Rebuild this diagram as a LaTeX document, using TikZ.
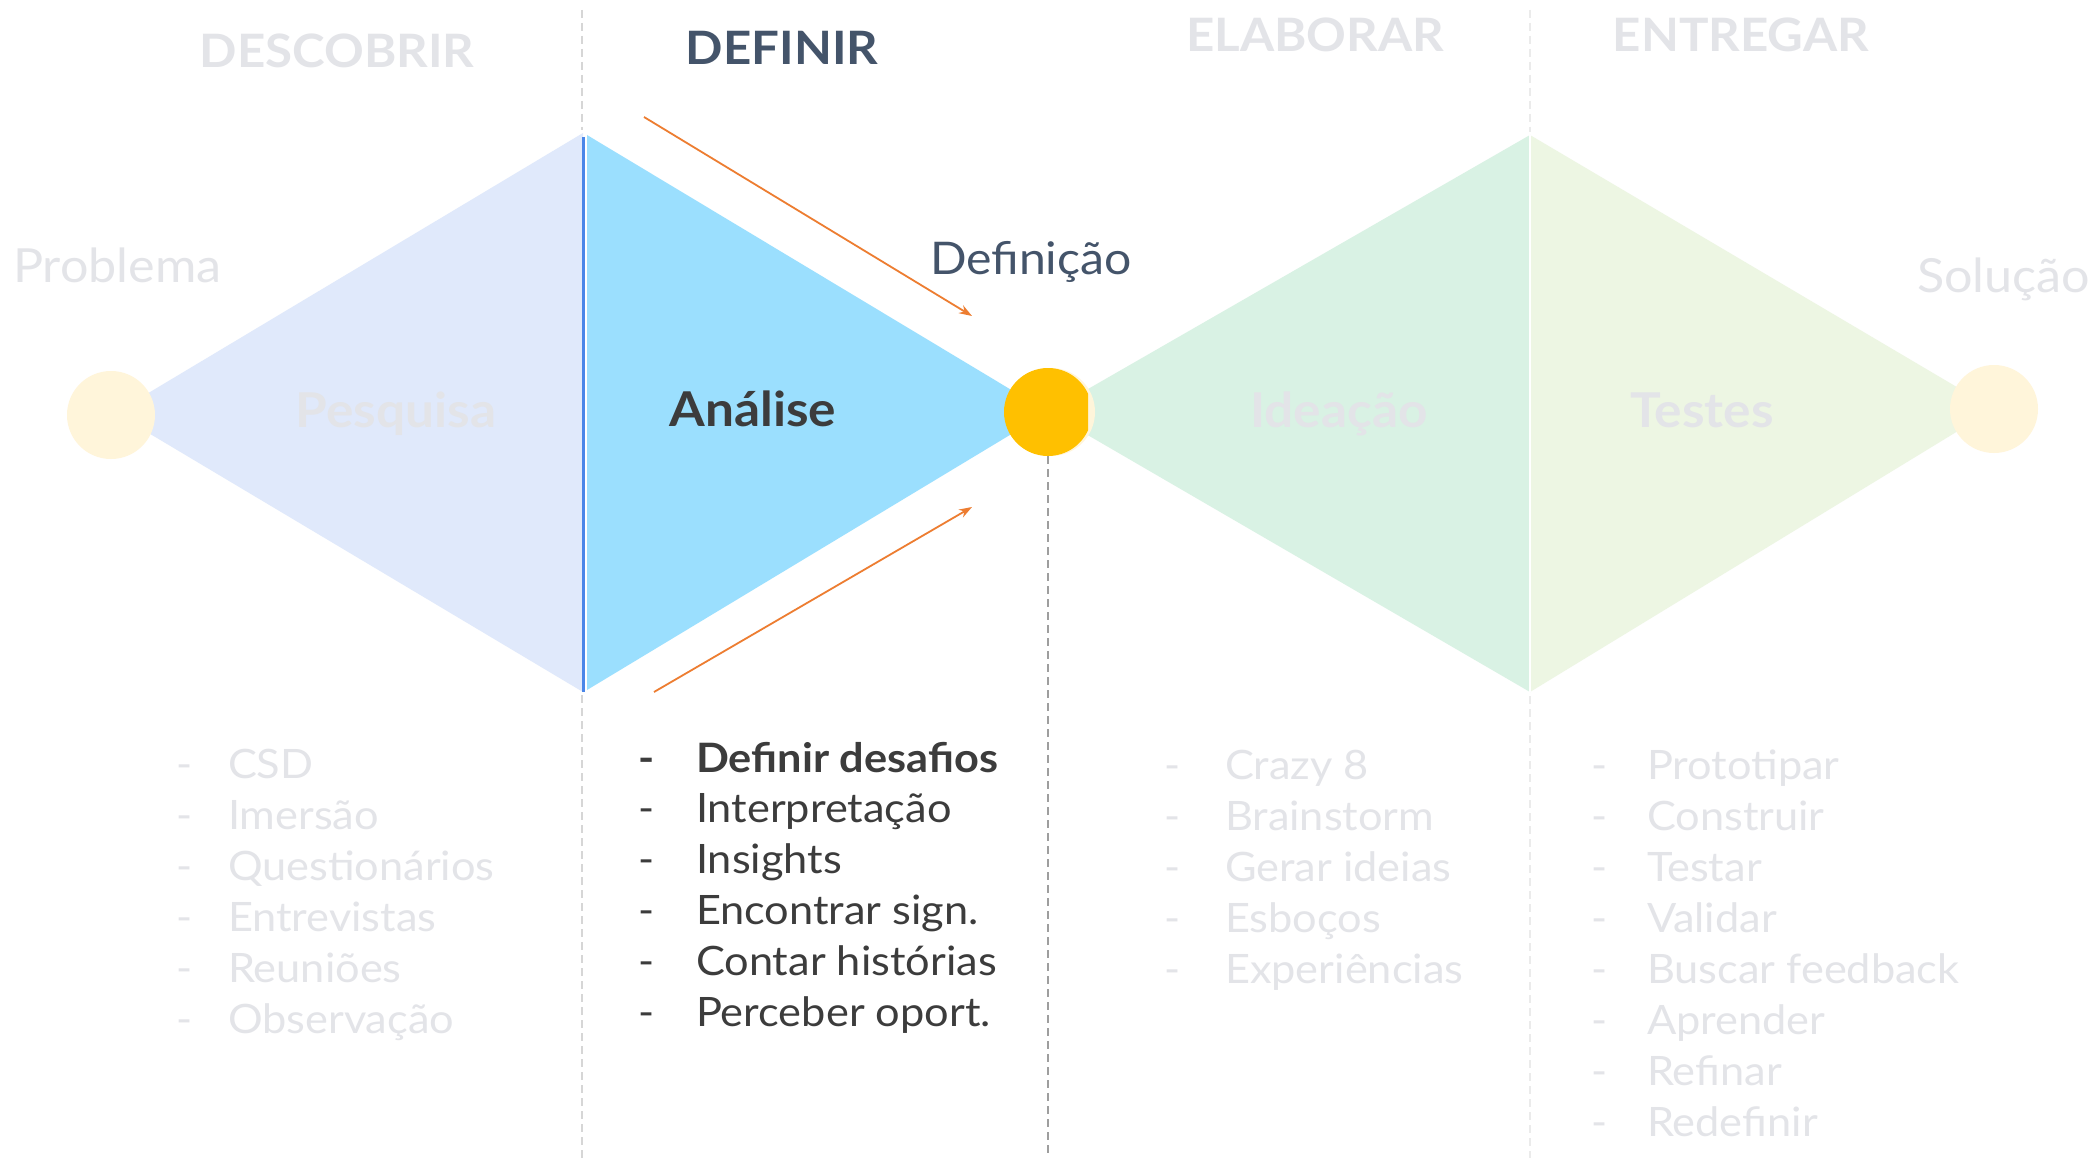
\documentclass[tikz,border=0pt]{standalone}
\usepackage{fontspec}
\setmainfont{Lato}[FakeStretch=1.07]
\usetikzlibrary{arrows.meta}
\definecolor{lav}{HTML}{E0E9FB}
\definecolor{cyanf}{HTML}{9BDFFE}
\definecolor{mint}{HTML}{D9F2E4}
\definecolor{lgreen}{HTML}{EDF6E3}
\definecolor{cream}{HTML}{FFF5DA}
\definecolor{gold}{HTML}{FFC000}
\definecolor{bline}{HTML}{4A86E8}
\definecolor{orng}{HTML}{ED7D31}
\definecolor{slate}{HTML}{44546A}
\definecolor{faint}{HTML}{E3E4E8}
\definecolor{dark}{HTML}{3C3C3C}
\begin{document}
\begin{tikzpicture}[x=1pt,y=-1pt,
  every node/.style={inner sep=0pt, outer sep=0pt},
  header/.style={anchor=base, font=\fontsize{46}{54}\selectfont\bfseries},
  label/.style={anchor=base west, font=\fontsize{47}{56}\selectfont},
  phase/.style={anchor=base, font=\fontsize{48}{56}\selectfont\bfseries},
  item/.style={anchor=base west, font=\fontsize{40.5}{48}\selectfont},
  dot/.style={circle, minimum size=88pt},
  arr/.style={draw=orng, line width=1.8pt, -{Stealth[length=13pt,width=9pt]}},
  dashlight/.style={draw=black!16, line width=1.5pt, dash pattern=on 8pt off 5pt},
  dashfaint/.style={draw=black!8, line width=1.5pt, dash pattern=on 8pt off 5pt},
  dashmid/.style={draw=black!38, line width=1.5pt, dash pattern=on 8pt off 5pt}]
\useasboundingbox[fill=white] (0,0) rectangle (2091,1158);

% key points
\coordinate (L) at (115,413);
\coordinate (T1) at (583,133);
\coordinate (B1) at (583,692);
\coordinate (M) at (1048,412);
\coordinate (T2) at (1530,135);
\coordinate (B2) at (1530,692);
\coordinate (R) at (1994,409);

% diamonds
\fill[lav] (L) -- (T1) -- (B1) -- cycle;
\fill[cyanf] (587,135) -- (M) -- (587,690) -- cycle;
\fill[mint] (M) -- (T2) -- (B2) -- cycle;
\fill[lgreen] (T2) -- (R) -- (B2) -- cycle;
\draw[white, line width=2pt] (T2) -- (B2);
\draw[bline, line width=3pt] (583,137) -- (B1);

% dashed guides
\coordinate (g1t) at (582,10);
\coordinate (g1b) at (582,1158);
\coordinate (g2t) at (1530,10);
\coordinate (g2b) at (1530,1158);
\coordinate (g3b) at (1048,1158);
\draw[dashlight] (g1t) -- (582,130);
\draw[dashlight] (582,695) -- (g1b);
\draw[dashfaint] (g2t) -- (1530,132);
\draw[dashfaint] (1530,696) -- (g2b);

% circles
\node[dot, fill=cream] (c1) at (111,415) {};
\node[dot, fill=cream] (c3) at (R) {};
\node[dot, fill=cream] (c2b) at (1051,412) {};
\begin{scope}
  \clip (0,0) rectangle (1088,1158);
  \node[dot, fill=gold] (c2) at (M) {};
\end{scope}
\draw[dashmid] (c2.south) -- (g3b);

% headers
\node[header, text=faint] (h1) at (337,68) {DESCOBRIR};
\node[header, text=slate] (h2) at (782,65) {DEFINIR};
\node[header, text=faint] (h3) at (1315,52) {ELABORAR};
\node[header, text=faint] (h4) at (1741,52) {ENTREGAR};

% side labels
\node[label, text=faint] (lp) at (13,283) {Problema};
\node[label, text=slate, font=\fontsize{45}{54}\selectfont] (ld) at (930,275) {Definição};
\node[label, text=faint] (ls) at (1917,293) {Solução};

% phase labels
\node[phase, text=faint] (p1) at (396,427) {Pesquisa};
\node[phase, text=dark] (p2) at (753,426) {Análise};
\node[phase, text=faint] (p3) at (1339,427) {Ideação};
\node[phase, text=faint] (p4) at (1702,427) {Testes};

% arrows
\coordinate (a1s) at (644,117);
\coordinate (a1e) at (972,316);
\coordinate (a2s) at (654,692);
\coordinate (a2e) at (972,507);
\draw[arr] (a1s) -- (a1e);
\draw[arr] (a2s) -- (a2e);

% lists
\foreach \t [count=\i] in {CSD,Imersão,Questionários,Entrevistas,Reuniões,Observação}{
  \node[item, text=faint] (d1\i) at (176,{778+51*(\i-1)}) {-};
  \node[item, text=faint] (t1\i) at (228,{778+51*(\i-1)}) {\t};
}
\node[item, text=dark, font=\fontsize{40.5}{48}\selectfont\bfseries] (d21) at (638,772) {-};
\node[item, text=dark, font=\fontsize{40.5}{48}\selectfont\bfseries] (t21) at (696,772) {Definir desafios};
\foreach \t [count=\i from 2] in {Interpretação,Insights,Encontrar sign.,Contar histórias,Perceber oport.}{
  \node[item, text=dark] (d2\i) at (638,{772+50.8*(\i-1)}) {-};
  \node[item, text=dark] (t2\i) at (696,{772+50.8*(\i-1)}) {\t};
}
\foreach \t [count=\i] in {Crazy 8,Brainstorm,Gerar ideias,Esboços,Experiências}{
  \node[item, text=faint] (d3\i) at (1164,{779+51*(\i-1)}) {-};
  \node[item, text=faint] (t3\i) at (1225,{779+51*(\i-1)}) {\t};
}
\foreach \t [count=\i] in {Prototipar,Construir,Testar,Validar,Buscar feedback,Aprender,Refinar,Redefinir}{
  \node[item, text=faint] (d4\i) at (1591,{779+51*(\i-1)}) {-};
  \node[item, text=faint] (t4\i) at (1647,{779+51*(\i-1)}) {\t};
}
\end{tikzpicture}
\end{document}
